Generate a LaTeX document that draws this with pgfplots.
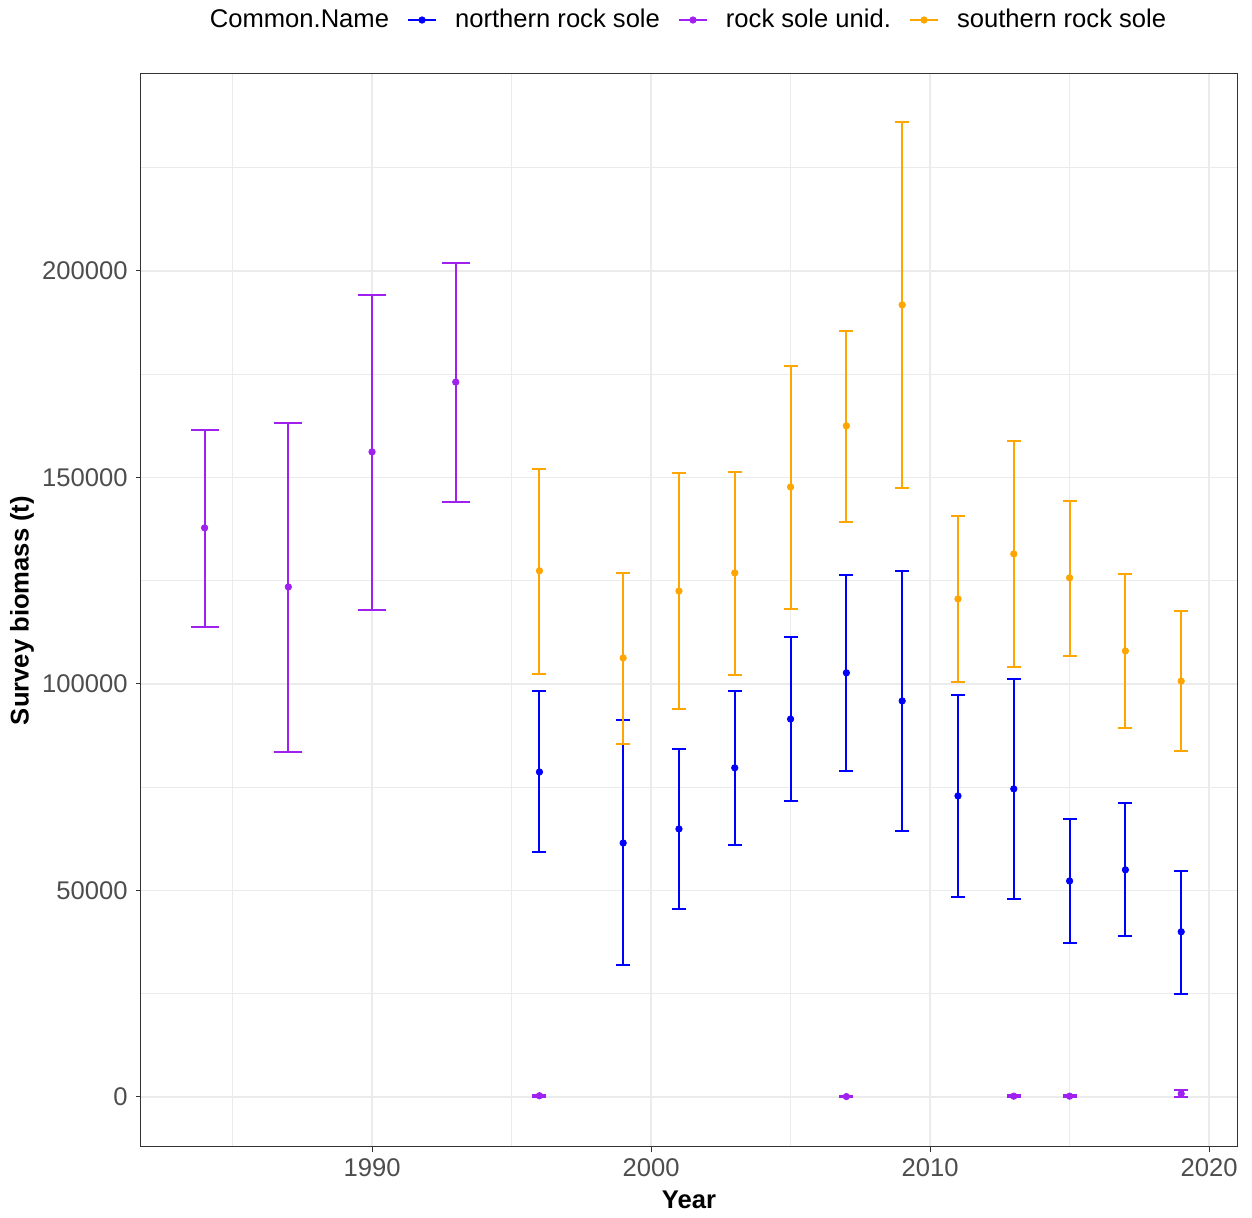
\documentclass[border=0pt]{standalone}
\usepackage{fontspec}
\setmainfont{Liberation Sans}
\usepackage{pgfplots}
\pgfplotsset{compat=1.18}
\usepackage{pgfplotstable}
\definecolor{nrs}{HTML}{0000FF}
\definecolor{rsu}{HTML}{A020F0}
\definecolor{srs}{HTML}{FFA500}
\definecolor{gridc}{HTML}{EBEBEB}
\definecolor{tickc}{HTML}{4D4D4D}
\definecolor{framec}{HTML}{333333}

\pgfplotstableread{
x y lo hi
1996 78700 59300 98300
1999 61500 32000 91300
2001 64900 45500 84300
2003 79700 61000 98300
2005 91500 71700 111400
2007 102700 78900 126400
2009 95900 64400 127400
2011 72900 48400 97300
2013 74600 47900 101200
2015 52300 37300 67300
2017 55000 39000 71200
2019 40000 24900 54700
}\northern

\pgfplotstableread{
x y lo hi
1984 137800 113800 161500
1987 123500 83500 163200
1990 156200 117900 194200
1993 173100 144100 201900
}\unidearly

\pgfplotstableread{
x y lo hi
1996 300 0 600
2007 100 0 200
2013 200 0 400
2015 200 0 400
2019 800 0 1800
}\unidlate

\pgfplotstableread{
x y lo hi
1996 127400 102400 152100
1999 106300 85500 126900
2001 122500 93900 151100
2003 126900 102200 151300
2005 147700 118200 177000
2007 162500 139200 185500
2009 191800 147500 236100
2011 120600 100500 140700
2013 131500 104100 158800
2015 125700 106800 144300
2017 108000 89300 126600
2019 100700 83800 117700
}\southern

\pgfplotsset{
  ebar/.style n args={2}{only marks, mark=*, mark size=1.6pt, color=#1, forget plot,
    error bars/.cd, y dir=both, y explicit,
    error bar style={line width=1pt, color=#1},
    error mark options={rotate=90, mark size=#2, line width=1pt, color=#1}},
}

\newcommand{\fs}{\fontsize{12.8}{15}\selectfont}

\begin{document}
\begin{tikzpicture}
\useasboundingbox (-70.5pt,-35.5pt) rectangle (555.5pt,573.5pt);
\begin{axis}[
  at={(0,0)}, anchor=south west,
  scale only axis, width=548pt, height=536.5pt,
  xmin=1981.72, xmax=2021.0,
  ymin=-12107, ymax=247700,
  scaled x ticks=false, scaled y ticks=false,
  xtick={1990,2000,2010,2020},
  xticklabels={1990,2000,2010,2020},
  ytick={0,50000,100000,150000,200000},
  yticklabels={0,50000,100000,150000,200000},
  minor xtick={1985,1995,2005,2015},
  minor ytick={25000,75000,125000,175000,225000},
  grid=both,
  major grid style={color=gridc, line width=0.75pt},
  minor grid style={color=gridc, line width=0.4pt},
  tick align=outside,
  major tick length=2.75pt,
  minor tick length=0pt,
  xtick pos=bottom, ytick pos=left,
  tick style={color=framec, line width=0.5pt},
  axis line style={color=framec, line width=0.5pt},
  tick label style={font=\fs, color=tickc, inner sep=0pt},
  xticklabel style={yshift=-2.75pt},
  yticklabel style={xshift=-3.75pt},
  xlabel={Year},
  ylabel={Survey biomass (t)},
  xlabel style={font=\fs\bfseries, at={(axis description cs:0.5,-0.0494)}, anchor=center},
  ylabel style={font=\fs\bfseries, at={(axis description cs:-0.1086,0.5)}, anchor=center},
  legend columns=-1,
  legend style={at={(axis description cs:0.5,1.0503)}, anchor=center, xshift=-5pt, draw=none, fill=none,
    font=\fs, column sep=9pt, nodes={inner sep=0pt}},
]
\addplot[ebar={nrs}{3.5pt}] table[x=x, y=y, y error plus expr=\thisrow{hi}-\thisrow{y}, y error minus expr=\thisrow{y}-\thisrow{lo}] {\northern};
\addplot[ebar={rsu}{7pt}] table[x=x, y=y, y error plus expr=\thisrow{hi}-\thisrow{y}, y error minus expr=\thisrow{y}-\thisrow{lo}] {\unidearly};
\addplot[ebar={rsu}{3.5pt}] table[x=x, y=y, y error plus expr=\thisrow{hi}-\thisrow{y}, y error minus expr=\thisrow{y}-\thisrow{lo}] {\unidlate};
\addplot[ebar={srs}{3.5pt}] table[x=x, y=y, y error plus expr=\thisrow{hi}-\thisrow{y}, y error minus expr=\thisrow{y}-\thisrow{lo}] {\southern};

\addlegendimage{empty legend}
\addlegendentry{Common.Name}
\addlegendimage{legend image code/.code={\draw[nrs, line width=1pt] (0pt,0pt) -- (14pt,0pt); \fill[nrs] (7pt,0pt) circle (1.6pt);}}
\addlegendentry{northern rock sole}
\addlegendimage{legend image code/.code={\draw[rsu, line width=1pt] (0pt,0pt) -- (14pt,0pt); \fill[rsu] (7pt,0pt) circle (1.6pt);}}
\addlegendentry{rock sole unid.}
\addlegendimage{legend image code/.code={\draw[srs, line width=1pt] (0pt,0pt) -- (14pt,0pt); \fill[srs] (7pt,0pt) circle (1.6pt);}}
\addlegendentry{southern rock sole}
\end{axis}
\end{tikzpicture}
\end{document}
